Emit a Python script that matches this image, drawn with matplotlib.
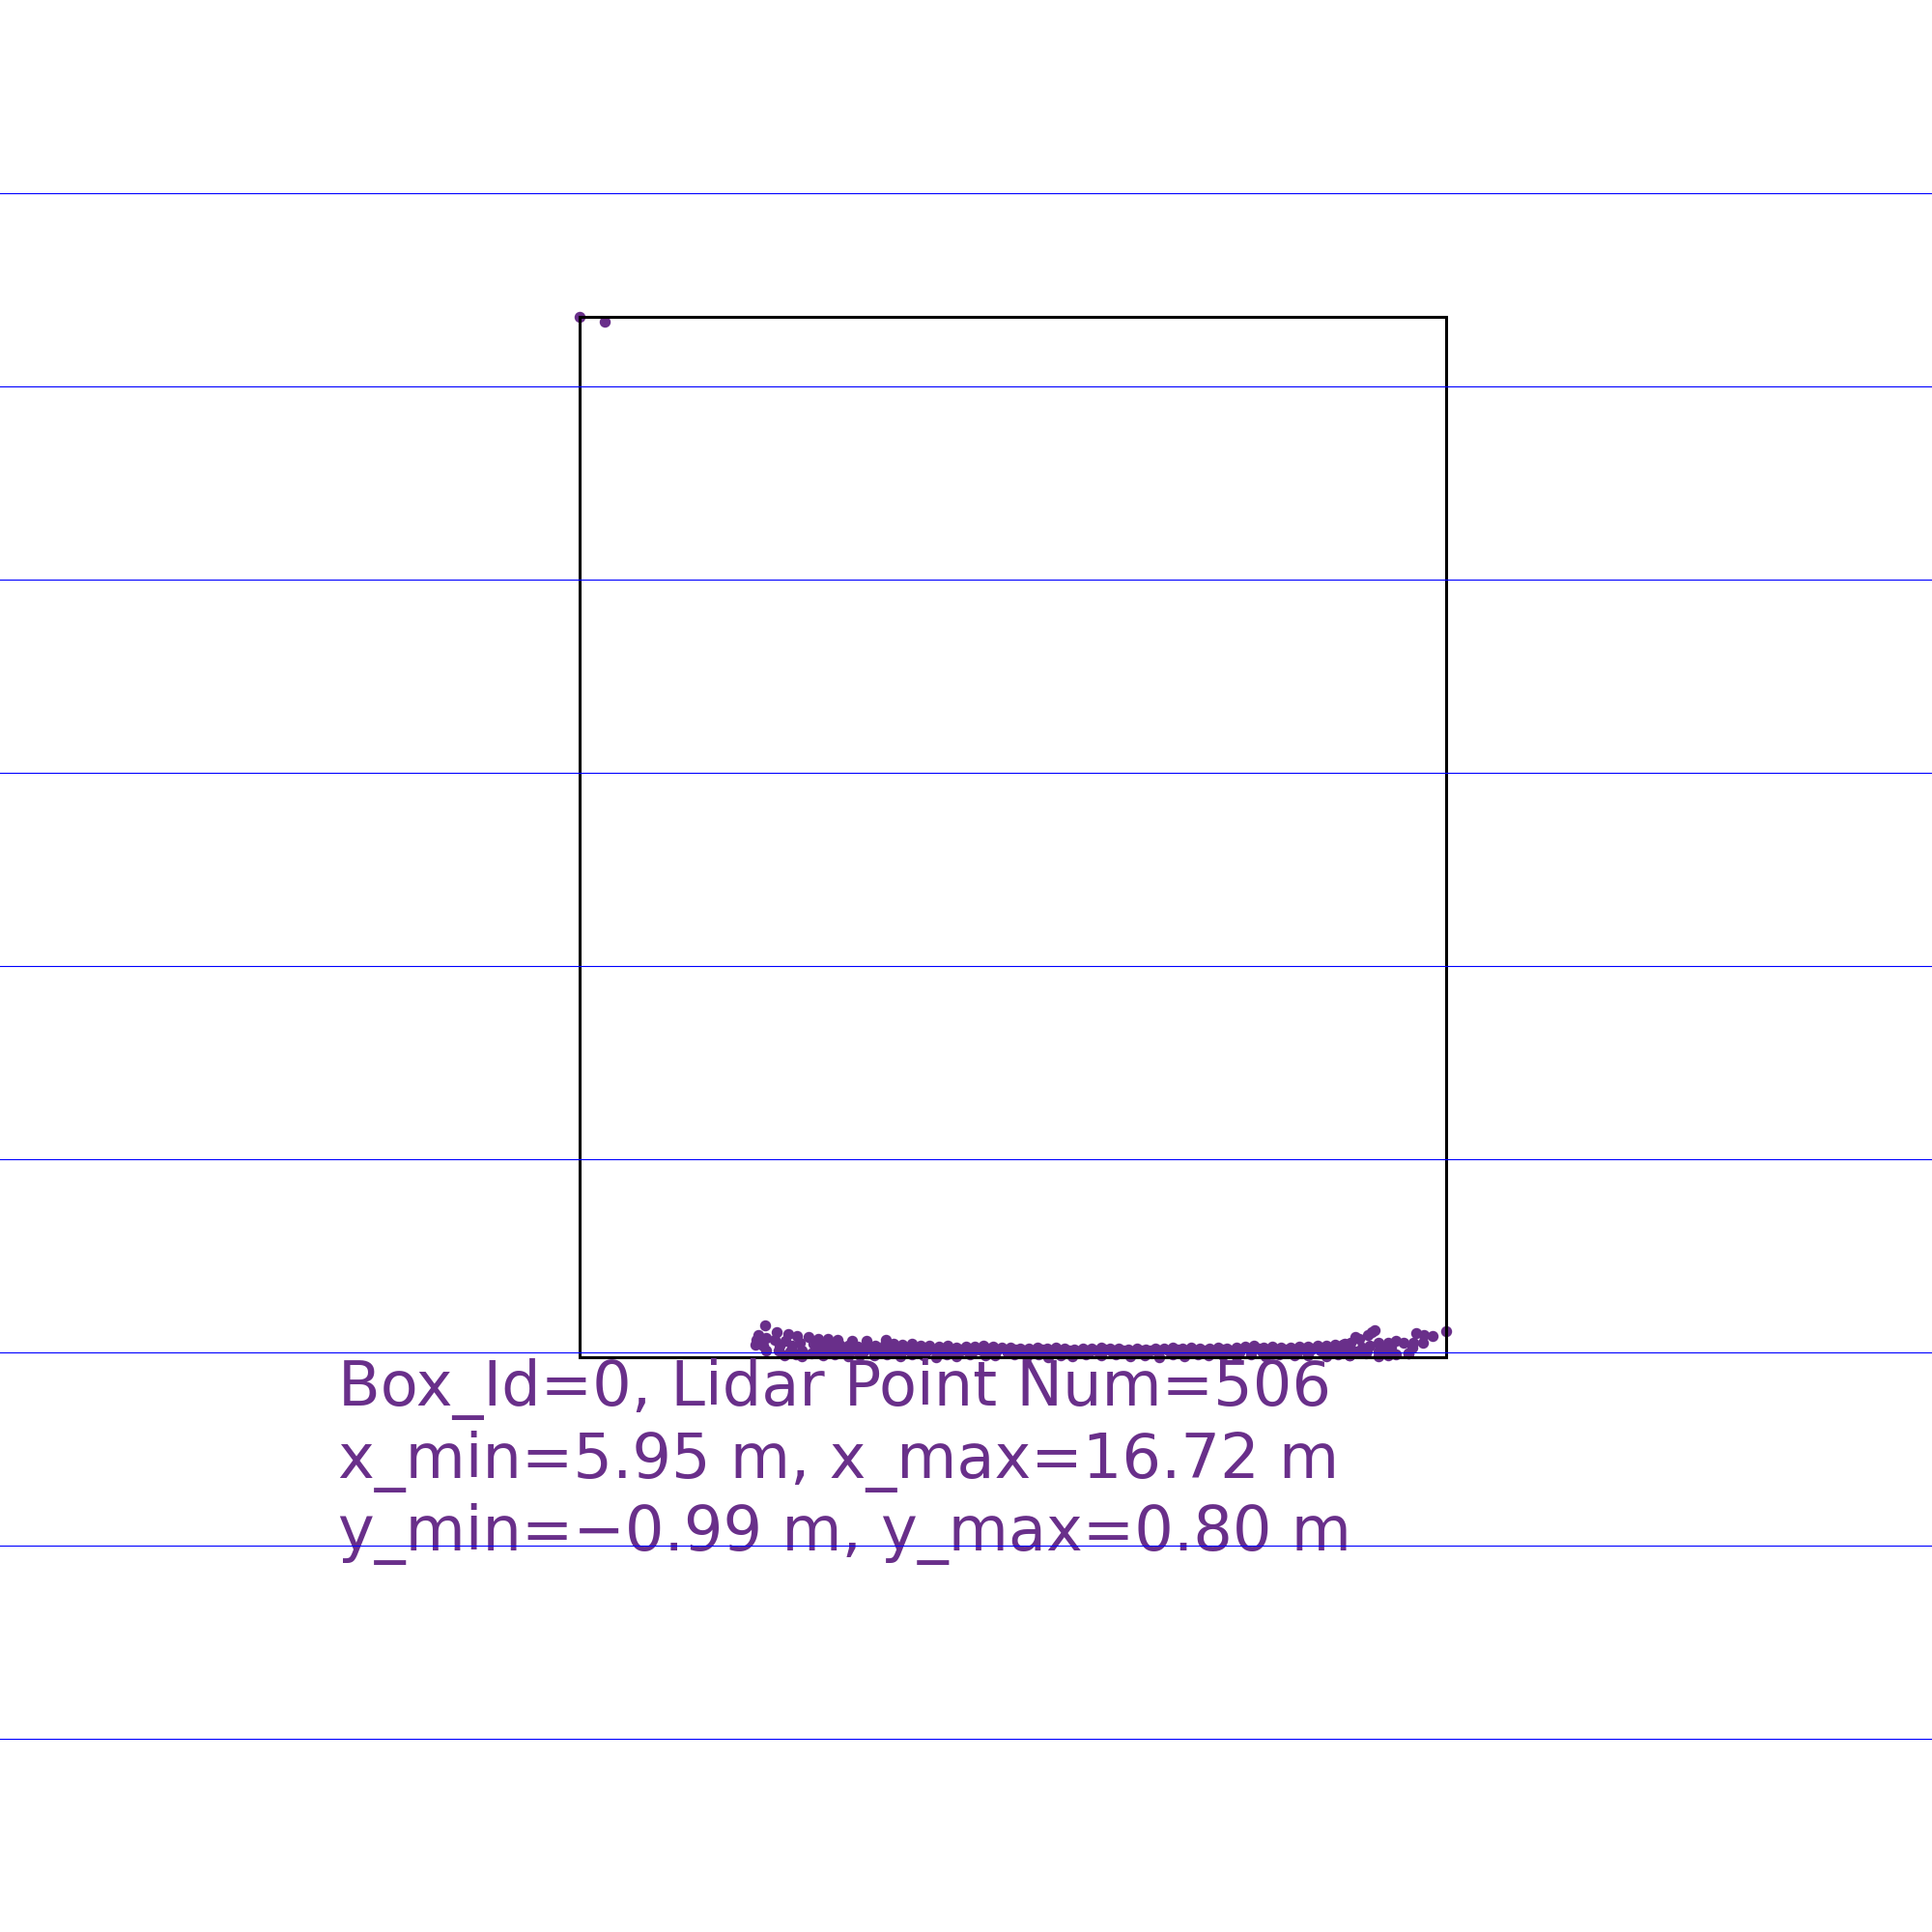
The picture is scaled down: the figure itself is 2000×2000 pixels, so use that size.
import matplotlib
matplotlib.use("Agg")
import matplotlib.pyplot as plt
from matplotlib.patches import Rectangle
import numpy as np

# top view of one lidar box, x = forward distance (m), y = lateral (m, left positive)
box_id = 0
point_num = 506
x_min, x_max = 5.95, 16.72
y_min, y_max = -0.994, 0.800

# distance markers every 2 m
marker_dist = [2, 4, 6, 8, 10, 12, 14, 16, 18]

# upper scan row
row_a_y = [0.316, 0.298, 0.280, 0.262, 0.244, 0.224, 0.206, 0.188, 0.168, 0.150,
           0.132, 0.112, 0.094, 0.076, 0.056, 0.038, 0.020, 0.000, -0.018, -0.036,
           -0.056, -0.074, -0.092, -0.112, -0.130, -0.148, -0.168, -0.186, -0.204, -0.224,
           -0.242, -0.260, -0.280, -0.298, -0.316, -0.336, -0.354, -0.372, -0.392, -0.410,
           -0.428, -0.448, -0.466, -0.484, -0.504, -0.522, -0.540, -0.560, -0.578, -0.596,
           -0.616, -0.634, -0.652, -0.672, -0.690, -0.708, -0.728, -0.746, -0.764, -0.784]
row_a_x = [6.09, 6.08, 6.09, 6.08, 6.07, 6.06, 6.07, 6.07, 6.08, 6.09,
           6.08, 6.09, 6.07, 6.07, 6.06, 6.07, 6.05, 6.06, 6.06, 6.07,
           6.06, 6.05, 6.05, 6.04, 6.04, 6.05, 6.04, 6.05, 6.04, 6.03,
           6.04, 6.04, 6.05, 6.04, 6.04, 6.03, 6.04, 6.03, 6.04, 6.04,
           6.05, 6.04, 6.05, 6.04, 6.04, 6.05, 6.04, 6.05, 6.06, 6.07,
           6.05, 6.06, 6.05, 6.05, 6.06, 6.06, 6.07, 6.07, 6.08, 6.09]

# second scan row
row_d_y = [0.308, 0.288, 0.270, 0.252, 0.234, 0.216, 0.196, 0.178, 0.160, 0.140,
           0.122, 0.104, 0.084, 0.066, 0.048, 0.028, 0.010, -0.008, -0.028, -0.046,
           -0.064, -0.084, -0.102, -0.120, -0.140, -0.158, -0.176, -0.196, -0.214, -0.232,
           -0.252, -0.270, -0.288, -0.308, -0.326, -0.344, -0.364, -0.382, -0.400, -0.420,
           -0.438, -0.456, -0.476, -0.494, -0.512, -0.532, -0.550, -0.568, -0.588, -0.606,
           -0.624, -0.644, -0.662, -0.680, -0.700, -0.718, -0.736, -0.756, -0.774, -0.792]
row_d_x = [6.05, 6.04, 6.05, 6.04, 6.04, 6.03, 6.04, 6.04, 6.05, 6.04,
           6.05, 6.04, 6.04, 6.03, 6.04, 6.03, 6.03, 6.02, 6.03, 6.04,
           6.03, 6.02, 6.03, 6.02, 6.02, 6.03, 6.02, 6.02, 6.02, 6.01,
           6.02, 6.02, 6.03, 6.02, 6.02, 6.01, 6.02, 6.02, 6.02, 6.02,
           6.03, 6.02, 6.02, 6.02, 6.02, 6.03, 6.02, 6.03, 6.03, 6.04,
           6.03, 6.03, 6.03, 6.03, 6.04, 6.04, 6.04, 6.05, 6.05, 6.06]

# third scan row
row_b_y = [0.388, 0.364, 0.340, 0.308, 0.284, 0.260, 0.236, 0.212, 0.178, 0.154,
           0.130, 0.106, 0.082, 0.058, 0.034, 0.010, -0.014, -0.038, -0.062, -0.086,
           -0.110, -0.134, -0.158, -0.182, -0.206, -0.230, -0.254, -0.278, -0.302, -0.326,
           -0.350, -0.374, -0.398, -0.422, -0.446, -0.470, -0.494, -0.518, -0.542, -0.566,
           -0.590, -0.614, -0.638, -0.662, -0.686, -0.710, -0.734, -0.758, -0.782, -0.806,
           -0.830, -0.854, -0.878]
row_b_x = [6.02, 6.01, 6.02, 6.01, 6.00, 6.01, 6.02, 6.01, 6.00, 6.01,
           6.02, 6.00, 6.01, 6.01, 6.00, 6.02, 6.01, 6.00, 6.01, 6.00,
           6.01, 6.00, 6.01, 6.00, 6.00, 6.01, 6.00, 6.00, 6.01, 6.00,
           6.00, 6.01, 6.00, 6.01, 6.00, 6.00, 6.01, 6.00, 6.01, 6.00,
           6.01, 6.00, 6.01, 6.01, 6.00, 6.01, 6.02, 6.01, 6.02, 6.01,
           6.02, 6.01, 6.02]

# fourth scan row
row_e_y = [0.352, 0.320, 0.272, 0.220, 0.164, 0.112, 0.088, 0.040, -0.008, -0.060,
           -0.100, -0.150, -0.196, -0.248, -0.310, -0.370, -0.428, -0.480, -0.532, -0.590,
           -0.648, -0.708, -0.770, -0.828, -0.890]
row_e_x = [5.98, 5.99, 5.98, 5.97, 5.98, 5.98, 5.97, 5.98, 5.98, 5.97,
           5.98, 5.98, 5.97, 5.98, 5.98, 5.97, 5.98, 5.98, 5.97, 5.98,
           5.98, 5.97, 5.98, 5.99, 5.98]

# lowest scan row (partly below the box edge)
row_c_y = [0.376, 0.340, 0.296, 0.244, 0.190, 0.136, 0.062, 0.020, -0.040, -0.126,
           -0.170, -0.220, -0.280, -0.340, -0.400, -0.452, -0.502, -0.560, -0.620, -0.680,
           -0.746, -0.794, -0.854, -0.874, -0.916]
row_c_x = [5.97, 5.96, 5.97, 5.96, 5.97, 5.96, 5.95, 5.96, 5.97, 5.96,
           5.95, 5.96, 5.97, 5.96, 5.95, 5.96, 5.97, 5.96, 5.96, 5.97,
           5.96, 5.97, 5.96, 5.97, 5.99]

# left end of the bumper
left_y = [0.416, 0.392, 0.368, 0.350, 0.326, 0.306, 0.286, 0.266, 0.236, 0.436, 0.430,
          0.434, 0.414, 0.420, 0.396, 0.386, 0.374, 0.360, 0.344, 0.414, 0.206, 0.166]
left_x = [6.28, 6.21, 6.19, 6.17, 6.16, 6.14, 6.14, 6.13, 6.12, 6.08, 6.18,
          6.13, 6.15, 6.07, 6.13, 6.07, 6.12, 6.07, 6.10, 6.02, 6.12, 6.13]

# right end of the bumper
right_y = [-0.840, -0.846, -0.832, -0.932, -0.948, -0.966, -0.994, -0.946, -0.926, -0.924,
           -0.916, -0.890, -0.906, -0.874, -0.854, -0.836, -0.814, -0.820, -0.796, -0.806,
           -0.780, -0.880, -0.860, -0.820, -0.794]
right_x = [6.21, 6.23, 6.18, 6.20, 6.18, 6.17, 6.22, 6.10, 6.10, 6.05,
           5.99, 6.12, 6.10, 6.10, 6.10, 6.07, 6.14, 6.05, 6.10, 6.16,
           6.08, 6.05, 6.04, 6.00, 5.97]

# two stray points far away
stray_y = [0.800, 0.748]
stray_x = [16.72, 16.67]

pts_y = np.array(row_a_y + row_d_y + row_b_y + row_e_y + row_c_y + left_y + right_y + stray_y)
pts_x = np.array(row_a_x + row_d_x + row_b_x + row_e_x + row_c_x + left_x + right_x + stray_x)

col = "#692f8a"

fig = plt.figure(figsize=(20, 20), dpi=100)
ax = fig.add_axes([0, 0, 1, 1])
ax.set_xlim(2, -2)  # left of image is positive lateral
ax.set_ylim(0, 20)
ax.axis("off")

ax.scatter(pts_y, pts_x, s=68, color=col, linewidths=0, zorder=2)

# bounding box of the points
ax.add_patch(Rectangle((y_min, x_min), y_max - y_min, x_max - x_min, fill=False,
                       edgecolor="black", linewidth=2.2, zorder=3))

lines = ["Box_Id=%d, Lidar Point Num=%d" % (box_id, point_num),
         "x_min=%.2f m, x_max=%.2f m" % (x_min, x_max),
         "y_min=%.2f m, y_max=%.2f m" % (y_min, y_max)]
for i, txt in enumerate(lines):
    ax.annotate(txt.replace("-", "\u2212"), xy=(y_max, x_min), xytext=(-250, -50 - 75 * i),
                textcoords="offset pixels", ha="left", va="baseline",
                fontsize=46, color=col, family="DejaVu Sans", zorder=4)

for d in marker_dist:
    ax.axhline(d, color="blue", linewidth=0.8, zorder=5)

fig.savefig("out.png", dpi=100, facecolor="white")
